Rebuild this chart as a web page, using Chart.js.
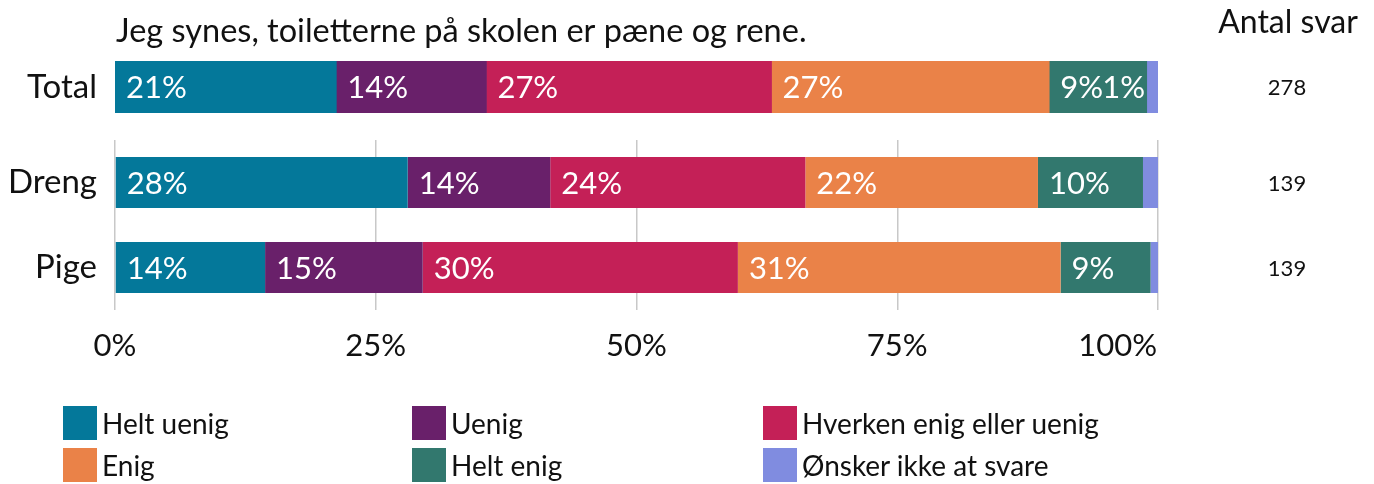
<!DOCTYPE html>
<html lang="da">
<head>
<meta charset="UTF-8">
<title>Toiletter</title>
<script src="https://cdn.jsdelivr.net/npm/chart.js@4.4.1/dist/chart.umd.min.js"></script>
<style>
  body { margin: 0; background: #fff; font-family: Lato, sans-serif; }
  #contenedor { position: relative; width: 1374px; height: 484px; overflow: hidden; }
  #contenedor canvas { position: absolute; left: 0; top: 0; }
  #leyenda { position: absolute; left: 63px; top: 406px; display: grid; grid-template-columns: 349px 351px auto; row-gap: 8px; }
  .item { display: flex; align-items: center; height: 34px; font-size: 28px; color: #111; white-space: nowrap; }
  .cuadro { width: 34px; height: 34px; margin-right: 5px; flex: none; }
</style>
</head>
<body>
<div id="contenedor">
  <canvas id="grafico-total" width="1374" height="484"></canvas>
  <canvas id="grafico-grupos" width="1374" height="484"></canvas>
  <div id="leyenda"></div>
</div>
<script>
// Categorías de respuesta y sus colores
const respuestas = ['Helt uenig', 'Uenig', 'Hverken enig eller uenig', 'Enig', 'Helt enig', 'Ønsker ikke at svare'];
const colores = ['#04789a', '#69206a', '#c42057', '#ea8248', '#32786e', '#808ce0'];

// Filas del gráfico
const filaTotal = ['Total'];
const filasGrupos = ['Dreng', 'Pige'];

// Porcentajes por fila (en el orden de "respuestas")
const valoresTotal = [21.22, 14.39, 27.34, 26.62, 9.35, 1.08];
const valoresDreng = [28.06, 13.67, 24.46, 22.30, 10.07, 1.44];
const valoresPige = [14.39, 15.11, 30.22, 30.94, 8.63, 0.72];

// Número de respuestas por fila
const antalTotal = [278];
const antalGrupos = [139, 139];

// Marcas del eje x (porcentaje)
const marcasEje = [0, 25, 50, 75, 100];

const titulo = 'Jeg synes, toiletterne på skolen er pæne og rene.';
const fuente = 'Lato';
const colorTexto = '#111';

// Plugin: porcentajes en blanco dentro de cada segmento
function pluginEtiquetas(antal) {
    return {
        id: 'etiquetasPorcentaje',
        afterDatasetsDraw(chart) {
            const ctx = chart.ctx;
            const area = chart.chartArea;
            ctx.save();
            ctx.font = '31px ' + fuente;
            ctx.fillStyle = '#fff';
            ctx.textAlign = 'left';
            ctx.textBaseline = 'middle';
            chart.data.datasets.forEach((ds, i) => {
                chart.getDatasetMeta(i).data.forEach((barra, j) => {
                    const valor = ds.data[j];
                    // sin etiqueta si hay menos de 3 respuestas
                    if (Math.round(valor * antal[j] / 100) < 3) return;
                    const texto = Math.round(valor) + '%';
                    const ancho = ctx.measureText(texto).width;
                    const { y, base } = barra.getProps(['y', 'base'], true);
                    const x = Math.min(base + 11, area.right - ancho - 13);
                    ctx.fillText(texto, x, y + 1);
                });
            });
            ctx.restore();
        }
    };
}

// Plugin: columna "Antal svar" a la derecha
function pluginAntal(antal) {
    return {
        id: 'antalSvar',
        afterDraw(chart) {
            const ctx = chart.ctx;
            const escalaY = chart.scales.y;
            ctx.save();
            ctx.font = '22px ' + fuente;
            ctx.fillStyle = colorTexto;
            ctx.textAlign = 'center';
            ctx.textBaseline = 'middle';
            antal.forEach((n, j) => ctx.fillText(String(n), 1287, escalaY.getPixelForValue(j) + 1));
            ctx.restore();
        }
    };
}

// Plugin: título y cabecera de la columna de respuestas
const pluginTitulos = {
    id: 'titulos',
    afterDraw(chart) {
        const ctx = chart.ctx;
        ctx.save();
        ctx.fillStyle = colorTexto;
        ctx.textBaseline = 'alphabetic';
        ctx.font = '32.5px ' + fuente;
        ctx.textAlign = 'left';
        ctx.fillText(titulo, chart.chartArea.left + 1, 42);
        ctx.font = '32px ' + fuente;
        ctx.textAlign = 'center';
        ctx.fillText('Antal svar', 1288, 33);
        ctx.restore();
    }
};

// Plugin: etiquetas del eje x (la última alineada a la derecha)
const pluginEjeX = {
    id: 'ejeX',
    afterDraw(chart) {
        const ctx = chart.ctx;
        const escala = chart.scales.x;
        ctx.save();
        ctx.font = '31px ' + fuente;
        ctx.fillStyle = colorTexto;
        ctx.textBaseline = 'middle';
        escala.ticks.forEach((t, k) => {
            const px = escala.getPixelForValue(t.value);
            const ultimo = k === escala.ticks.length - 1;
            ctx.textAlign = ultimo ? 'right' : 'center';
            ctx.fillText(t.value + '%', ultimo ? px - 1 : px, 346);
        });
        ctx.restore();
    }
};

// Crea los conjuntos de datos apilados (uno por categoría de respuesta)
function crearDatasets(filas, grosor) {
    return respuestas.map((r, i) => ({
        label: r,
        data: filas.map(f => f[i]),
        backgroundColor: colores[i],
        borderWidth: 0,
        barPercentage: grosor,
        categoryPercentage: 1
    }));
}

// Opciones comunes de los dos gráficos
function opciones(padding, conRejilla) {
    return {
        responsive: false,
        animation: false,
        indexAxis: 'y',
        layout: { padding: padding },
        plugins: {
            legend: { display: false },
            tooltip: { enabled: false }
        },
        scales: {
            x: {
                stacked: true,
                min: 0,
                max: 100,
                border: { display: false },
                grid: { display: conRejilla, color: '#c8c8c8', lineWidth: 1.5, drawTicks: false },
                ticks: { display: false },
                afterBuildTicks(scale) { scale.ticks = marcasEje.map(v => ({ value: v })); },
                afterFit(scale) { scale.height = 0; }
            },
            y: {
                stacked: true,
                border: { display: false },
                grid: { display: false, drawTicks: false },
                ticks: { font: { family: fuente, size: 33 }, color: colorTexto, padding: 18 },
                afterFit(scale) { scale.width = 115; }
            }
        }
    };
}

// Gráfico de la fila Total
new Chart(document.getElementById('grafico-total'), {
    type: 'bar',
    data: {
        labels: filaTotal,
        datasets: crearDatasets([valoresTotal], 1)
    },
    options: opciones({ top: 61, bottom: 371, left: 0, right: 216 }, false),
    plugins: [pluginEtiquetas(antalTotal), pluginAntal(antalTotal), pluginTitulos]
});

// Gráfico de Dreng y Pige
new Chart(document.getElementById('grafico-grupos'), {
    type: 'bar',
    data: {
        labels: filasGrupos,
        datasets: crearDatasets([valoresDreng, valoresPige], 0.6)
    },
    options: opciones({ top: 140, bottom: 174, left: 0, right: 216 }, true),
    plugins: [pluginEtiquetas(antalGrupos), pluginAntal(antalGrupos), pluginEjeX]
});

// Leyenda en dos filas de tres columnas
const leyenda = document.getElementById('leyenda');
respuestas.forEach((r, i) => {
    const item = document.createElement('div');
    item.className = 'item';
    item.innerHTML = `<span class="cuadro" style="background:${colores[i]}"></span><span>${r}</span>`;
    leyenda.appendChild(item);
});
</script>
</body>
</html>
